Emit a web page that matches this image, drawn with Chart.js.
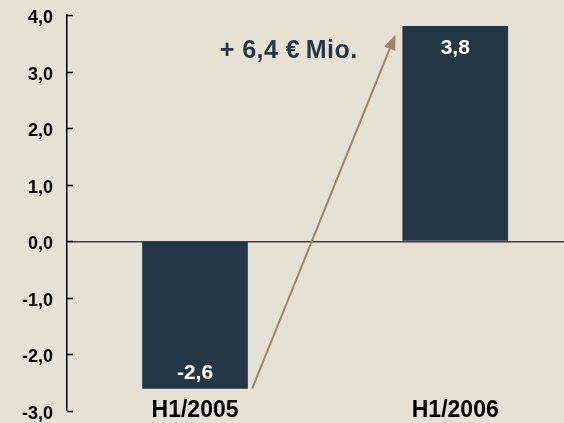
<!DOCTYPE html>
<html>
<head>
<meta charset="utf-8">
<script src="https://cdn.jsdelivr.net/npm/chart.js@4/dist/chart.umd.min.js"></script>
<style>
  html, body { margin: 0; padding: 0; background: #e7e0d4; }
  #ResultChart { display: block; }
</style>
</head>
<body>
<canvas id="ResultChart" width="564" height="423"></canvas>
<script>
// half-year results in EUR million
var periods = ['H1/2005', 'H1/2006'];
var results = [-2.6, 3.8];
var yTicks = [-3, -2, -1, 0, 1, 2, 3, 4];

var navy = '#243746';
var arrowBrown = '#9e8469';
var fontFamily = '"Liberation Sans", Arial, sans-serif';

function fmt(v) {
    return v.toFixed(1).replace('.', ',');
}

// small ticks drawn on the inside of the value axis
var innerTicks = {
    id: 'innerTicks',
    afterDraw: function (chart) {
        var ctx = chart.ctx;
        var y = chart.scales.y;
        ctx.save();
        ctx.strokeStyle = '#000';
        ctx.lineWidth = 1.5;
        y.ticks.forEach(function (t) {
            var py = Math.round(y.getPixelForValue(t.value)) + 0.5;
            ctx.beginPath();
            ctx.moveTo(y.right, py);
            ctx.lineTo(y.right + 6, py);
            ctx.stroke();
        });
        ctx.restore();
    }
};

// category names, value labels inside the bars, arrow and delta text
var barNotes = {
    id: 'barNotes',
    afterDatasetsDraw: function (chart) {
        var ctx = chart.ctx;
        var xs = chart.scales.x, ys = chart.scales.y;
        var bars = chart.getDatasetMeta(0).data;
        ctx.save();
        ctx.textAlign = 'center';
        ctx.textBaseline = 'middle';

        ctx.font = 'bold 23px ' + fontFamily;
        ctx.fillStyle = '#000';
        periods.forEach(function (p, i) {
            ctx.fillText(p, bars[i].x, chart.chartArea.bottom);
        });

        ctx.font = 'bold 21px ' + fontFamily;
        ctx.fillStyle = '#fff';
        bars.forEach(function (bar, i) {
            var v = results[i];
            var py = v >= 0 ? bar.y + 22 : bar.y - 15;
            ctx.fillText(fmt(v), bar.x, py);
        });

        // arrow from the bottom of the first bar to the top of the second
        var x0 = xs.getPixelForValue(0.72), y0 = ys.getPixelForValue(results[0]);
        var x1 = xs.getPixelForValue(1.27), y1 = ys.getPixelForValue(results[1] - 0.15);
        var ang = Math.atan2(y1 - y0, x1 - x0);
        var head = 15, half = 6;
        var bx = x1 - head * Math.cos(ang), by = y1 - head * Math.sin(ang);
        ctx.strokeStyle = arrowBrown;
        ctx.fillStyle = arrowBrown;
        ctx.lineWidth = 2;
        ctx.beginPath();
        ctx.moveTo(x0, y0);
        ctx.lineTo(bx, by);
        ctx.stroke();
        ctx.beginPath();
        ctx.moveTo(x1, y1);
        ctx.lineTo(bx + half * Math.sin(ang), by - half * Math.cos(ang));
        ctx.lineTo(bx - half * Math.sin(ang), by + half * Math.cos(ang));
        ctx.closePath();
        ctx.fill();

        var delta = results[1] - results[0];
        ctx.font = 'bold 25px ' + fontFamily;
        ctx.letterSpacing = '0.5px';
        ctx.fillStyle = navy;
        ctx.fillText('+ ' + fmt(delta) + ' \u20ac\u2009Mio.', xs.getPixelForValue(0.86), ys.getPixelForValue(3.36));
        ctx.restore();
    }
};

Chart.defaults.font.family = fontFamily;

var ResultChart = new Chart(document.getElementById('ResultChart'), {
    type: 'bar',
    data: {
        datasets: [{
            data: results.map(function (v, i) { return { x: i + 0.5, y: v }; }),
            backgroundColor: navy,
            borderWidth: 0,
            barThickness: 105
        }]
    },
    options: {
        responsive: false,
        animation: false,
        layout: { padding: { top: 15, right: 0, left: 0, bottom: 12 } },
        plugins: {
            legend: { display: false },
            tooltip: { enabled: false }
        },
        scales: {
            x: {
                type: 'linear',
                display: false,
                offset: false,
                min: 0.008,
                max: 1.918,
                grid: { display: false, offset: false }
            },
            y: {
                min: -3,
                max: 4,
                afterBuildTicks: function (axis) {
                    axis.ticks = yTicks.map(function (v) { return { value: v }; });
                },
                afterFit: function (axis) {
                    axis.width = 67;
                    axis.paddingTop = 0;
                    axis.paddingBottom = 0;
                },
                grid: {
                    drawTicks: false,
                    lineWidth: function (c) { return c.tick && c.tick.value === 0 ? 1.5 : 0; },
                    color: function (c) { return c.tick && c.tick.value === 0 ? '#3a4248' : 'rgba(0,0,0,0)'; }
                },
                border: { display: true, color: '#000', width: 1.5 },
                ticks: {
                    padding: 14,
                    labelOffset: 3,
                    color: '#000',
                    font: { size: 18, weight: 'bold' },
                    callback: function (v) { return fmt(v); }
                }
            }
        }
    },
    plugins: [innerTicks, barNotes]
});
</script>
</body>
</html>
